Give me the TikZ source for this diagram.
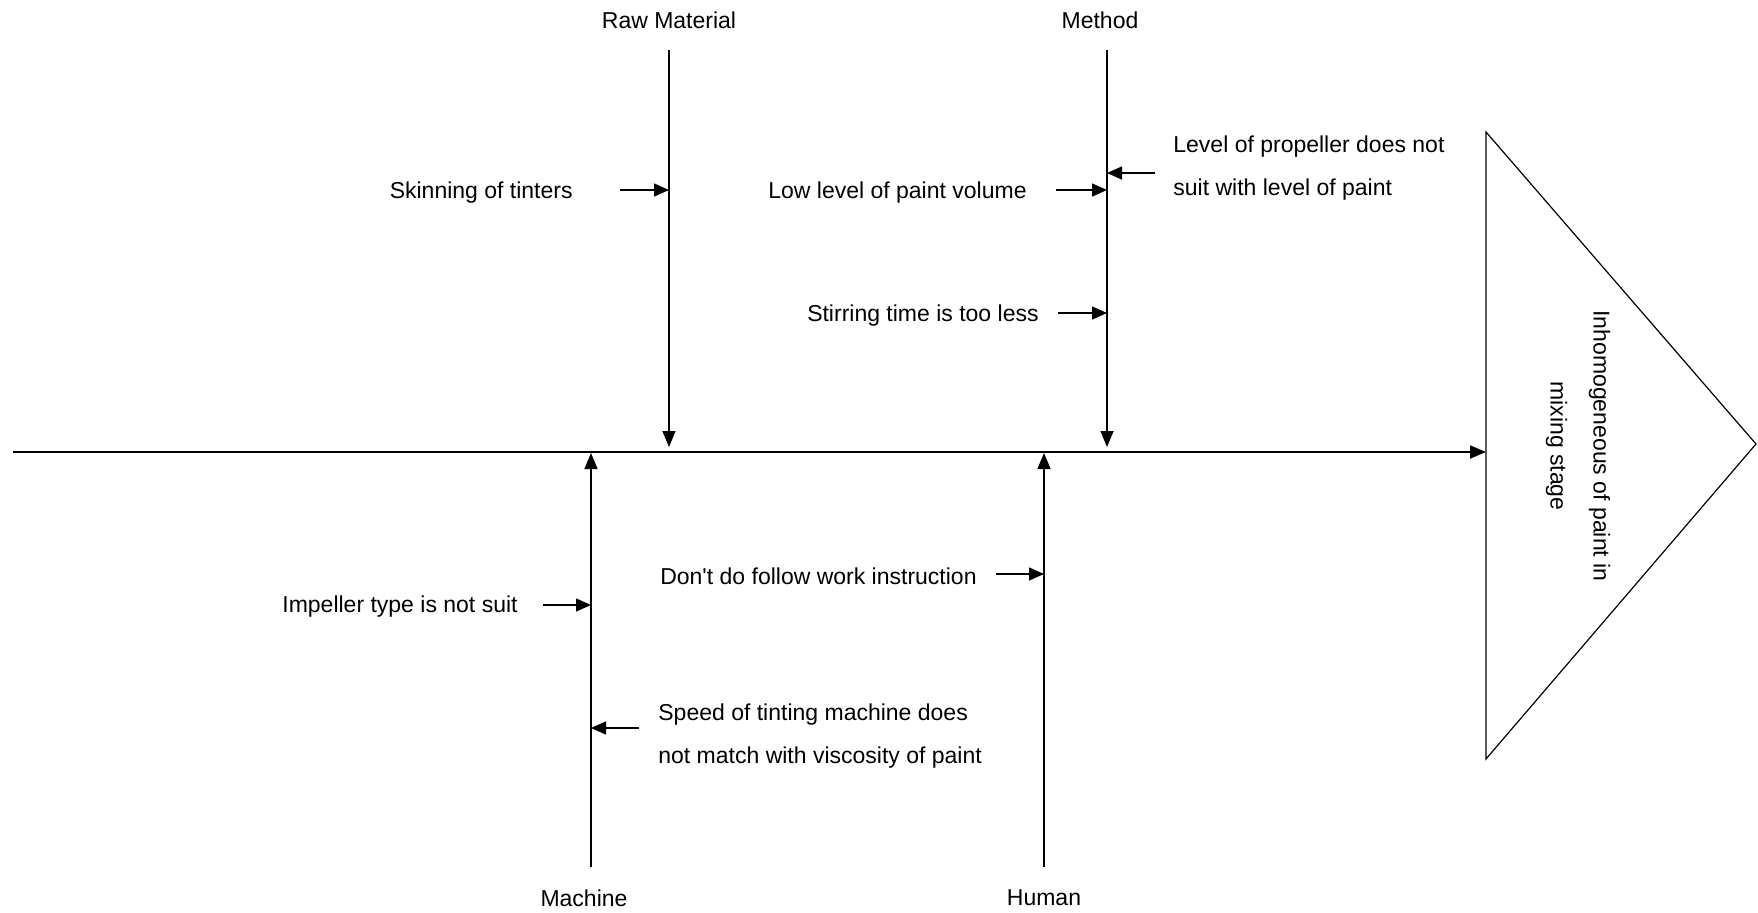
\documentclass[tikz,border=0pt]{standalone}
\usepackage{fontspec}
\setmainfont{Liberation Sans}
\usetikzlibrary{arrows.meta}
\begin{document}
\begin{tikzpicture}[x=0.5pt,y=-0.5pt,
  font=\fontsize{11.5}{21.5}\selectfont,
  every node/.style={inner sep=0pt},
  spine/.style={line width=0.9pt,-{Triangle[length=8pt,width=6.5pt]}},
  bone/.style={line width=0.75pt,-{Triangle[length=8pt,width=6.5pt]}},
  cause/.style={line width=0.75pt,-{Triangle[length=7.5pt,width=6.5pt]}},
  head/.style={line width=0.6pt}]
\useasboundingbox (0,0) rectangle (1758,912);

% effect (fish head)
\coordinate (T1) at (1486,132);
\coordinate (T2) at (1486,759);
\coordinate (T3) at (1756,444);
\draw[head] (T1) -- (T3) -- (T2) -- cycle;
\node[rotate=-90, align=center] (effect) at (1578,446)
  {Inhomogeneous of paint in\\mixing stage};

% spine
\coordinate (tail) at (13,452);
\coordinate (spinehead) at (1486,452);
\draw[spine] (tail) -- (spinehead);

% category: Raw Material
\node (raw) at (669,20) {Raw Material};
\coordinate (rawtop) at (669,50);
\coordinate (rawend) at (669,447);
\draw[bone] (rawtop) -- (rawend);

% category: Method
\node (method) at (1100,20) {Method};
\coordinate (methtop) at (1107,50);
\coordinate (methend) at (1107,447);
\draw[bone] (methtop) -- (methend);

% category: Machine
\node (machine) at (584,898) {Machine};
\coordinate (machbot) at (591,867);
\coordinate (machend) at (591,453);
\draw[bone] (machbot) -- (machend);

% category: Human
\node (human) at (1044,898) {Human};
\coordinate (humbot) at (1044,867);
\coordinate (humend) at (1044,453);
\draw[bone] (humbot) -- (humend);

% causes on Raw Material
\node[anchor=east] (skin) at (573,193) {Skinning of tinters};
\coordinate (skinA) at (620,190);
\draw[cause] (skinA) -- (skinA -| rawtop);

% causes on Method
\node[anchor=east] (lowlevel) at (1027,193) {Low level of paint volume};
\coordinate (lowA) at (1056,190);
\draw[cause] (lowA) -- (lowA -| methtop);

\node[anchor=west, align=left] (propeller) at (1173,168)
  {Level of propeller does not\\suit with level of paint};
\coordinate (propA) at (1155,173);
\draw[cause] (propA) -- (propA -| methtop);

\node[anchor=east] (stirring) at (1039,316) {Stirring time is too less};
\coordinate (stirA) at (1058,313);
\draw[cause] (stirA) -- (stirA -| methtop);

% causes on Machine
\node[anchor=east] (impeller) at (518,607) {Impeller type is not suit};
\coordinate (impA) at (543,605);
\draw[cause] (impA) -- (impA -| machbot);

\node[anchor=west, align=left] (speed) at (658,736)
  {Speed of tinting machine does\\not match with viscosity of paint};
\coordinate (speedA) at (639,728);
\draw[cause] (speedA) -- (speedA -| machbot);

% causes on Human
\node[anchor=east] (instruction) at (977,576) {Don\textquotesingle t do follow work instruction};
\coordinate (instrA) at (996,574);
\draw[cause] (instrA) -- (instrA -| humbot);
\end{tikzpicture}
\end{document}
